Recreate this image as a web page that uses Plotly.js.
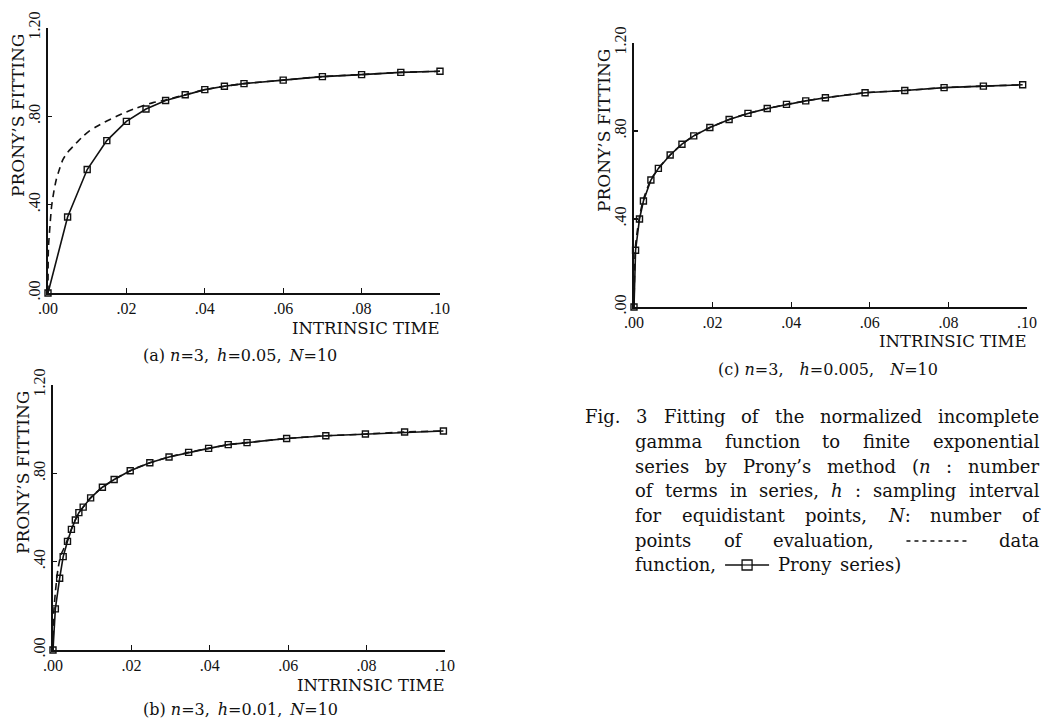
<!DOCTYPE html>
<html>
<head>
<meta charset="utf-8">
<script src="https://cdn.plot.ly/plotly-3.0.1.min.js"></script>
<style>
  html, body { margin: 0; padding: 0; background: #fff; }
  #chart { width: 1056px; height: 722px; }
</style>
</head>
<body>
<div id="chart"></div>
<script>
// ---------------- DATA ----------------
// Panel (a): n=3, h=0.05, N=10
const pronyA_x = [0, 0.005, 0.01, 0.015, 0.02, 0.025, 0.03, 0.035, 0.04, 0.045, 0.05, 0.06, 0.07, 0.08, 0.09, 0.10];
const pronyA_y = [0, 0.344, 0.559, 0.690, 0.777, 0.833, 0.872, 0.898, 0.921, 0.936, 0.948, 0.964, 0.980, 0.989, 0.999, 1.004];
const dataA_x = [0, 0.0001, 0.0004, 0.0009, 0.0015, 0.0021, 0.003, 0.0038, 0.005, 0.0064, 0.0077, 0.0089, 0.0105, 0.0124, 0.015, 0.0175, 0.02, 0.0226, 0.0268, 0.03, 0.035, 0.04, 0.045, 0.05, 0.06, 0.07, 0.08, 0.09, 0.10];
const dataA_y = [0, 0.20, 0.28, 0.39, 0.46, 0.513, 0.565, 0.604, 0.637, 0.664, 0.688, 0.709, 0.733, 0.754, 0.779, 0.800, 0.820, 0.838, 0.862, 0.874, 0.898, 0.921, 0.936, 0.948, 0.964, 0.980, 0.989, 0.999, 1.004];

// Panel (b): n=3, h=0.01, N=10
const pronyB_x = [0, 0.0006, 0.0017, 0.0026, 0.0037, 0.0047, 0.0057, 0.0066, 0.0077, 0.0096, 0.0126, 0.0156, 0.0197, 0.0247, 0.0296, 0.0346, 0.0397, 0.0447, 0.0495, 0.0596, 0.0696, 0.0797, 0.0897, 0.0996];
const pronyB_y = [0, 0.186, 0.325, 0.423, 0.492, 0.546, 0.589, 0.622, 0.647, 0.689, 0.737, 0.772, 0.812, 0.848, 0.874, 0.895, 0.913, 0.930, 0.939, 0.958, 0.970, 0.978, 0.987, 0.992];
const dataB_x = [0, 0.0002, 0.0006, 0.001, 0.0013, 0.002, 0.003, 0.0037, 0.0047, 0.0057, 0.0066, 0.0077, 0.0096, 0.0126, 0.0156, 0.0197, 0.0247, 0.0296, 0.0346, 0.0397, 0.0447, 0.0495, 0.0596, 0.0696, 0.0797, 0.0897, 0.0996];
const dataB_y = [0, 0.17, 0.26, 0.33, 0.37, 0.43, 0.468, 0.50, 0.548, 0.589, 0.622, 0.647, 0.689, 0.737, 0.772, 0.812, 0.848, 0.874, 0.895, 0.913, 0.930, 0.939, 0.958, 0.970, 0.978, 0.987, 0.992];

// Panel (c): n=3, h=0.005, N=10
const pronyC_x = [0, 0.0004, 0.0014, 0.0024, 0.0043, 0.0062, 0.0092, 0.0122, 0.0152, 0.0193, 0.0242, 0.029, 0.0339, 0.0388, 0.0437, 0.0487, 0.0588, 0.0689, 0.0789, 0.0889, 0.0989];
const pronyC_y = [0, 0.258, 0.400, 0.482, 0.577, 0.630, 0.691, 0.740, 0.778, 0.816, 0.852, 0.880, 0.902, 0.921, 0.937, 0.951, 0.974, 0.984, 0.997, 1.004, 1.010];
const dataC_x = [0, 0.0002, 0.0004, 0.0008, 0.0014, 0.0024, 0.0043, 0.0062, 0.0092, 0.0122, 0.0152, 0.0193, 0.0242, 0.029, 0.0339, 0.0388, 0.0437, 0.0487, 0.0588, 0.0689, 0.0789, 0.0889, 0.0989];
const dataC_y = [0, 0.20, 0.28, 0.34, 0.41, 0.49, 0.579, 0.630, 0.691, 0.740, 0.778, 0.816, 0.852, 0.880, 0.902, 0.921, 0.937, 0.951, 0.974, 0.984, 0.997, 1.004, 1.010];

// Tick values / labels
const xTickVals = [0, 0.02, 0.04, 0.06, 0.08, 0.10];
const xTickText = ['.00', '.02', '.04', '.06', '.08', '.10'];
const yTickVals = [0, 0.4, 0.8, 1.2];
const yTickText = ['.00', '.40', '.80', '1.20'];

const xTitle = 'INTRINSIC TIME';
const yTitle = 'PRONY\u2019S FITTING';
const panelCaptions = [
  '(a) <i>n</i>=3,\u2002<i>h</i>=0.05,\u2002<i>N</i>=10',
  '(b) <i>n</i>=3,\u2002<i>h</i>=0.01,\u2002<i>N</i>=10',
  '(c) <i>n</i>=3,\u2002\u2002<i>h</i>=0.005,\u2002\u2002<i>N</i>=10'
];

// ---------------- LAYOUT ----------------
const W = 1056, H = 722;
const px = x => x / W;
const py = y => 1 - y / H;

const boxes = [
  {l: 48,  r: 440,  t: 28,  b: 293},   // (a)
  {l: 53,  r: 445,  t: 385, b: 650},   // (b)
  {l: 634, r: 1027, t: 43,  b: 307}    // (c)
];
const captionPos = [ {x: 240, y: 355}, {x: 240, y: 709}, {x: 828, y: 369} ];

const tickFont = {family: 'Liberation Serif, serif', size: 16, color: '#111'};
const titleFont = {family: 'DejaVu Serif, serif', size: 16.5, color: '#111'};

const layout = {
  width: W, height: H,
  margin: {l: 0, r: 0, t: 0, b: 0},
  paper_bgcolor: '#fff', plot_bgcolor: '#fff',
  showlegend: false,
  annotations: [],
  shapes: []
};

const seriesSets = [
  [dataA_x, dataA_y, pronyA_x, pronyA_y],
  [dataB_x, dataB_y, pronyB_x, pronyB_y],
  [dataC_x, dataC_y, pronyC_x, pronyC_y]
];

const traces = [];
boxes.forEach((bx, i) => {
  const xa = i === 0 ? 'xaxis' : 'xaxis' + (i + 1);
  const ya = i === 0 ? 'yaxis' : 'yaxis' + (i + 1);
  const xr = i === 0 ? 'x' : 'x' + (i + 1);
  const yr = i === 0 ? 'y' : 'y' + (i + 1);
  layout[xa] = {
    domain: [px(bx.l), px(bx.r)], anchor: yr,
    range: [0, 0.1], tickvals: xTickVals, ticktext: xTickText,
    ticks: 'inside', ticklen: 5, tickwidth: 1.2, tickcolor: '#111',
    showline: true, linecolor: '#111', linewidth: 1.7,
    showgrid: false, zeroline: false, tickfont: tickFont, fixedrange: true
  };
  layout[ya] = {
    domain: [py(bx.b), py(bx.t)], anchor: xr,
    range: [0, 1.2], tickvals: yTickVals, ticktext: yTickText, tickangle: -90,
    ticks: 'inside', ticklen: 4, tickwidth: 1.2, tickcolor: '#111',
    showline: true, linecolor: '#111', linewidth: 1.7,
    showgrid: false, zeroline: false, tickfont: tickFont, fixedrange: true
  };
  const s = seriesSets[i];
  traces.push({
    x: s[0], y: s[1], xaxis: xr, yaxis: yr, type: 'scatter', mode: 'lines',
    line: {color: '#111', width: 1.6, dash: '7px,5px', shape: 'spline', smoothing: 0.6},
    cliponaxis: false, hoverinfo: 'skip'
  });
  traces.push({
    x: s[2], y: s[3], xaxis: xr, yaxis: yr, type: 'scatter', mode: 'lines+markers',
    line: {color: '#111', width: 1.6},
    marker: {symbol: 'square-open', size: 6, color: '#111', line: {width: 1.4, color: '#111'}},
    cliponaxis: false, hoverinfo: 'skip'
  });
  // axis titles as annotations
  layout.annotations.push({
    xref: 'paper', yref: 'paper', x: px(bx.r + 2), y: py(bx.b + 35),
    xanchor: 'right', yanchor: 'middle', showarrow: false,
    text: xTitle, font: titleFont
  });
  layout.annotations.push({
    xref: 'paper', yref: 'paper', x: px(bx.l - 30), y: py(bx.t + 88),
    xanchor: 'center', yanchor: 'middle', showarrow: false, textangle: -90,
    text: yTitle, font: {family: 'DejaVu Serif, serif', size: 17, color: '#111'}
  });
  layout.annotations.push({
    xref: 'paper', yref: 'paper', x: px(captionPos[i].x), y: py(captionPos[i].y),
    xanchor: 'center', yanchor: 'middle', showarrow: false,
    text: panelCaptions[i], font: {family: 'DejaVu Serif, serif', size: 16, color: '#111'}
  });
});

// ---------------- FIGURE CAPTION (justified text) ----------------
const capFontSize = 18;
const capFamily = 'DejaVu Serif';
const capFont = {family: 'DejaVu Serif, serif', size: capFontSize, color: '#111'};
const canvas = document.createElement('canvas');
const ctx = canvas.getContext('2d');
function measure(html) {
  const parts = html.split(/(<i>.*?<\/i>)/);
  let w = 0;
  parts.forEach(p => {
    if (!p) return;
    const it = p.startsWith('<i>');
    const t = p.replace(/<\/?i>/g, '');
    ctx.font = (it ? 'italic ' : '') + capFontSize + 'px "' + capFamily + '"';
    w += ctx.measureText(t).width;
  });
  return w;
}
const capRight = 1039;
const capLines = [
  {x0: 585, y: 416, just: true, toks: ['Fig.', '3', 'Fitting', 'of', 'the', 'normalized', 'incomplete']},
  {x0: 635, y: 441, just: true, toks: ['gamma', 'function', 'to', 'finite', 'exponential']},
  {x0: 635, y: 466, just: true, toks: ['series', 'by', 'Prony\u2019s', 'method', '(<i>n</i>', ':', 'number']},
  {x0: 635, y: 491, just: true, toks: ['of', 'terms', 'in', 'series,', '<i>h</i>', ':', 'sampling', 'interval']},
  {x0: 635, y: 515, just: true, toks: ['for', 'equidistant', 'points,', '<i>N</i>:', 'number', 'of']},
  {x0: 635, y: 540, just: true, toks: ['points', 'of', 'evaluation,', {glyph: 'dash', w: 60}, 'data']},
  {x0: 635, y: 564, just: false, gap: 9, toks: ['function,', {glyph: 'prony', w: 44}, 'Prony', 'series)']}
];
capLines.forEach(L => {
  const widths = L.toks.map(t => typeof t === 'string' ? measure(t) : t.w);
  const total = widths.reduce((a, b) => a + b, 0);
  const gap = L.just ? Math.max(3, (capRight - L.x0 - total) / (L.toks.length - 1)) : L.gap;
  let x = L.x0;
  L.toks.forEach((t, k) => {
    if (typeof t === 'string') {
      layout.annotations.push({
        xref: 'paper', yref: 'paper', x: px(x - 1), y: py(L.y),
        xanchor: 'left', yanchor: 'middle', showarrow: false,
        text: t, font: capFont, borderpad: 0
      });
    } else if (t.glyph === 'dash') {
      layout.shapes.push({
        type: 'line', xref: 'paper', yref: 'paper',
        x0: px(x), x1: px(x + t.w), y0: py(L.y + 1), y1: py(L.y + 1),
        line: {color: '#111', width: 1.3, dash: '4px,4px'}
      });
    } else if (t.glyph === 'prony') {
      const yy = L.y + 1;
      layout.shapes.push({
        type: 'line', xref: 'paper', yref: 'paper',
        x0: px(x), x1: px(x + t.w), y0: py(yy), y1: py(yy),
        line: {color: '#111', width: 1.5}
      });
      const cx = x + t.w / 2;
      layout.shapes.push({
        type: 'rect', xref: 'paper', yref: 'paper',
        x0: px(cx - 5), x1: px(cx + 5), y0: py(yy + 5), y1: py(yy - 5),
        line: {color: '#111', width: 1.3}, fillcolor: '#fff'
      });
      layout.shapes.push({
        type: 'line', xref: 'paper', yref: 'paper',
        x0: px(cx - 5), x1: px(cx + 5), y0: py(yy), y1: py(yy),
        line: {color: '#111', width: 1.2}
      });
    }
    x += widths[k] + gap;
  });
});

Plotly.newPlot('chart', traces, layout, {staticPlot: true, displayModeBar: false});
</script>
</body>
</html>
